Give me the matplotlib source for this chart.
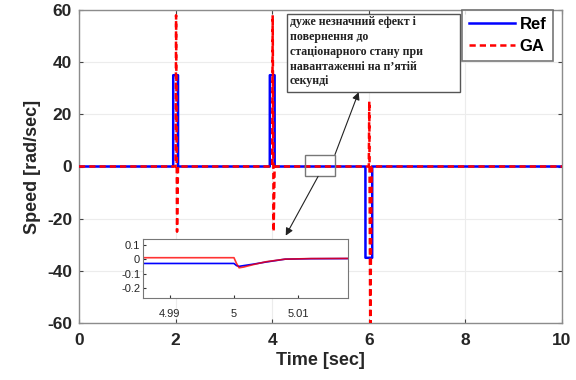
import matplotlib
matplotlib.use("Agg")
import matplotlib.pyplot as plt
from matplotlib.patches import Rectangle

plt.rcParams['font.family'] = ['Liberation Sans', 'DejaVu Sans']
plt.rcParams['axes.unicode_minus'] = False

# Reference speed profile (rad/sec) vs time (sec)
t_ref = [0, 1.95, 1.951, 2.05, 2.051, 3.95, 3.951, 4.05, 4.051,
         5.93, 5.931, 6.07, 6.071, 10]
speed_ref = [0, 0, 35, 35, 0, 0, 35, 35, 0,
             0, -35, -35, 0, 0]

# GA-tuned controller response
t_ga = [0, 2.0, 2.01, 2.03, 2.05, 4.0, 4.01, 4.03, 4.05,
        6.0, 6.01, 6.03, 6.06, 10]
speed_ga = [0, 0, 58, -25, 0, 0, 58, -25, 0,
            0, 25, -64, 0, 0]

# Detail around the load step at t = 5 s
t_zoom = [4.985, 5.0, 5.0004, 5.0008, 5.0015, 5.003, 5.005, 5.008, 5.012, 5.018]
ref_zoom = [-0.03, -0.03, -0.045, -0.05, -0.045, -0.035, -0.02, 0.0, 0.003, 0.004]
ga_zoom = [0.01, 0.01, -0.03, -0.06, -0.055, -0.038, -0.018, 0.0, 0.004, 0.005]

xticks = [0, 2, 4, 6, 8, 10]
yticks = [-60, -40, -20, 0, 20, 40, 60]
zoom_xticks = [4.99, 5.0, 5.01]
zoom_xticklabels = ['4.99', '5', '5.01']
zoom_yticks = [0.1, 0, -0.1, -0.2]
zoom_yticklabels = ['0.1', '0', '-0.1', '-0.2']

note = ("дуже незначний ефект і\nповернення до\nстаціонарного стану при\n"
        "навантаженні на п’ятій\nсекунді")

blue = (0, 0, 1)
red = (1, 0, 0)
spine_c = '#8c8c8c'
text_c = '#262626'

W, H = 576, 380
fig = plt.figure(figsize=(W / 100, H / 100), dpi=100)
ax = fig.add_axes([79 / W, 1 - 323 / H, (562 - 79) / W, (323 - 10) / H])

ax.plot(t_ref, speed_ref, color=blue, lw=1.8, label='Ref', zorder=3)
ax.plot(t_ga, speed_ga, color=red, lw=1.8, ls=(0, (2.5, 1.6)), label='GA', zorder=4)

ax.set_xlim(0, 10)
ax.set_ylim(-60, 60)
ax.set_xticks(xticks)
ax.set_yticks(yticks)
ax.grid(True, color='#ececec', lw=0.8)
ax.set_axisbelow(True)
ax.tick_params(direction='in', colors='#444444', labelsize=12.5, length=3,
               top=True, right=True)
ax.tick_params(axis='x', pad=7)
ax.tick_params(axis='y', pad=5)
for lbl in ax.get_xticklabels() + ax.get_yticklabels():
    lbl.set_fontweight('bold')
    lbl.set_color(text_c)
for s in ax.spines.values():
    s.set_color(spine_c)
    s.set_linewidth(1.0)
ax.set_xlabel('Time [sec]', fontsize=13, fontweight='bold', color=text_c, labelpad=3)
ax.set_ylabel('Speed [rad/sec]', fontsize=13, fontweight='bold', color=text_c, labelpad=4)

leg = ax.legend(loc='upper right', prop={'weight': 'bold', 'size': 12},
                frameon=True, fancybox=False, edgecolor='#555555',
                handlelength=2.8, borderaxespad=0.0, handletextpad=0.25,
                labelspacing=0.45, borderpad=0.4,
                bbox_to_anchor=(553 / W, 1 - 10 / H), bbox_transform=fig.transFigure)
leg.get_frame().set_linewidth(1.2)

# Small marker box around the load step
ax.add_patch(Rectangle((4.68, -3.8), 0.62, 8.4, fill=False, ec='#777777', lw=1.0, zorder=5))

# Note box
fig.patches.append(Rectangle((287 / W, 1 - 92 / H), (460 - 287) / W, (92 - 14) / H,
                             transform=fig.transFigure, fill=True, fc='white',
                             ec='#555555', lw=1.0, zorder=6))
fig.text(290 / W, 1 - 16.5 / H, note, family=['Liberation Serif', 'DejaVu Serif'],
         fontsize=8.6, fontweight='bold', va='top', ha='left', linespacing=1.3,
         color='#222222', zorder=7)

# Arrows from the marker box to the note and to the inset
ax.annotate('', xy=(5.79, 28.5), xytext=(5.3, 4.6),
            arrowprops=dict(arrowstyle='-|>', color='#222222', lw=0.8,
                            mutation_scale=11, shrinkA=0, shrinkB=0), zorder=6)
ax.annotate('', xy=(4.28, -26.5), xytext=(4.95, -3.8),
            arrowprops=dict(arrowstyle='-|>', color='#222222', lw=0.8,
                            mutation_scale=11, shrinkA=0, shrinkB=0), zorder=6)

# Inset
axin = fig.add_axes([143 / W, 1 - 298 / H, (348 - 143) / W, (298 - 239) / H])
axin.plot(t_zoom, ref_zoom, color=blue, lw=1.2)
axin.plot(t_zoom, ga_zoom, color=red, lw=1.2, alpha=0.8)
axin.set_xlim(4.9858, 5.0178)
axin.set_ylim(-0.27, 0.14)
axin.set_xticks(zoom_xticks)
axin.set_xticklabels(zoom_xticklabels)
axin.set_yticks(zoom_yticks)
axin.set_yticklabels(zoom_yticklabels)
axin.tick_params(direction='in', labelsize=8, length=2, colors='#333333', pad=2)
axin.tick_params(axis='x', pad=8)
for lbl in axin.get_xticklabels() + axin.get_yticklabels():
    lbl.set_color(text_c)
for s in axin.spines.values():
    s.set_color('#777777')
    s.set_linewidth(0.8)

fig.savefig('out.png', dpi=100)
